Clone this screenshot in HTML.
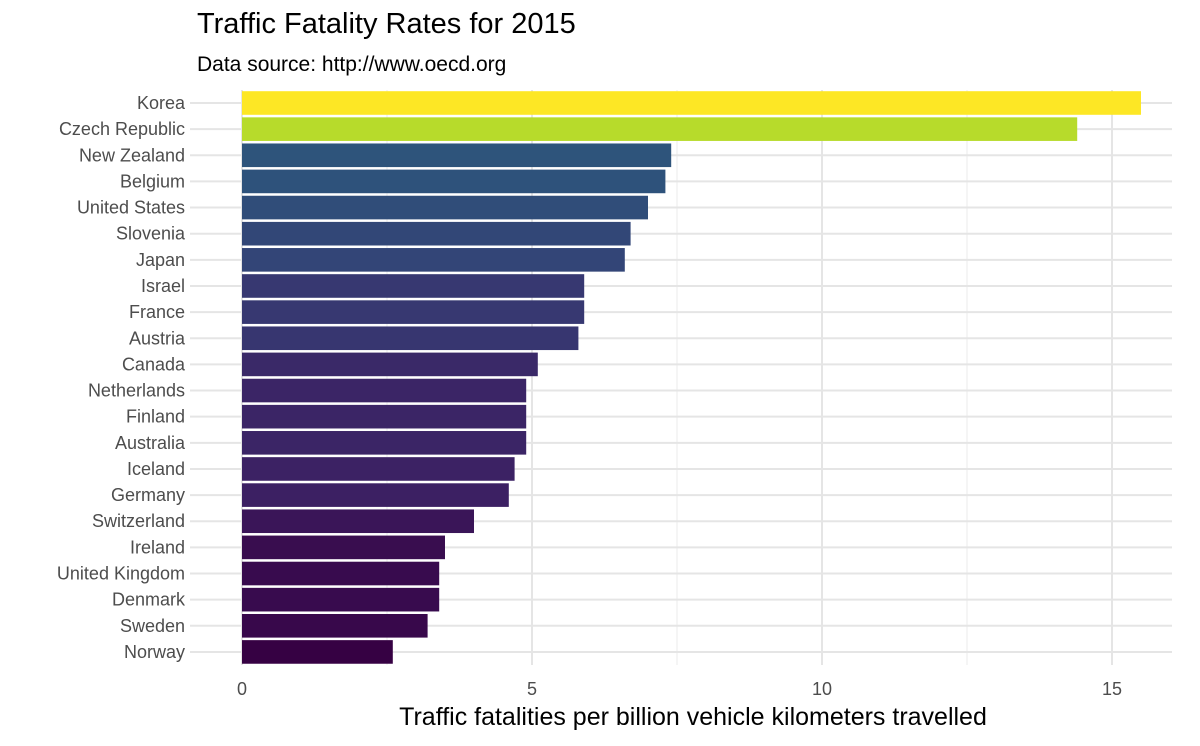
<!DOCTYPE html>
<html><head><meta charset="utf-8"><style>
body{margin:0;background:#fff;font-family:"Liberation Sans",sans-serif}
svg text{font-family:"Liberation Sans",sans-serif}
</style></head><body>
<svg id="c" width="1200" height="741" viewBox="0 0 1200 741" xmlns="http://www.w3.org/2000/svg">
<text x="197" y="33" font-size="29" fill="#000">Traffic Fatality Rates for 2015</text>
<text x="197" y="71" font-size="21" fill="#000">Data source: http://www.oecd.org</text>
<g id="grid"></g>
<g id="bars"></g>
<g id="labels"></g>
<g id="ticks"></g>
<text x="693" y="725" font-size="25" text-anchor="middle" fill="#000">Traffic fatalities per billion vehicle kilometers travelled</text>
</svg>
<script>
const countries=["Korea","Czech Republic","New Zealand","Belgium","United States","Slovenia","Japan","Israel","France","Austria","Canada","Netherlands","Finland","Australia","Iceland","Germany","Switzerland","Ireland","United Kingdom","Denmark","Sweden","Norway"];
const values=[15.5,14.4,7.4,7.3,7.0,6.7,6.6,5.9,5.9,5.8,5.1,4.9,4.9,4.9,4.7,4.6,4.0,3.5,3.4,3.4,3.2,2.6];
const ticks=[0,5,10,15];
const minorTicks=[2.5,7.5,12.5];
{
const NS="http://www.w3.org/2000/svg";
const x=v=>242+v*58;
const y=i=>103+i*26.14;
const pTop=90,pBottom=665,pLeft=190,pRight=1172;
const vir=[[68,1,84],[72,40,120],[62,74,137],[49,104,142],[38,130,142],[31,158,137],[53,183,121],[109,205,89],[180,222,44],[253,231,37]];
function col(v){const mn=Math.min(...values),mx=Math.max(...values);const t0=(v-mn)/(mx-mn);let t=Math.pow(t0,1.2)*(vir.length-1);let i=Math.min(Math.floor(t),vir.length-2),f=t-i;const d=0.8+0.2*t0;const c=vir[i].map((a,k)=>Math.round((a+(vir[i+1][k]-a)*f)*d));return `rgb(${c.join(',')})`;}
function mk(tag,attrs,parent){const e=document.createElementNS(NS,tag);for(const k in attrs)e.setAttribute(k,attrs[k]);document.getElementById(parent).appendChild(e);return e;}
minorTicks.forEach(t=>{const l=mk('line',{x1:x(t),x2:x(t),y1:pTop,y2:pBottom,stroke:'#ebebeb','stroke-width':1},'grid');

});
ticks.forEach(t=>{const l=mk('line',{x1:x(t),x2:x(t),y1:pTop,y2:pBottom,stroke:'#e5e5e5','stroke-width':2},'grid');


const tx=mk('text',{x:x(t),y:695,'font-size':18,'text-anchor':'middle',fill:'#4d4d4d'},'ticks');tx.textContent=t;

});
countries.forEach((c,i)=>{const l=mk('line',{x1:pLeft,x2:pRight,y1:y(i),y2:y(i),stroke:'#e5e5e5','stroke-width':2},'grid');


const r=mk('rect',{x:x(0),y:y(i)-11.8,width:x(values[i])-x(0),height:23.6,fill:col(values[i])},'bars');


const t=mk('text',{x:185,y:y(i)+6,'font-size':18,'text-anchor':'end',fill:'#4d4d4d'},'labels');t.textContent=c;

});
}
</script>
</body></html>
